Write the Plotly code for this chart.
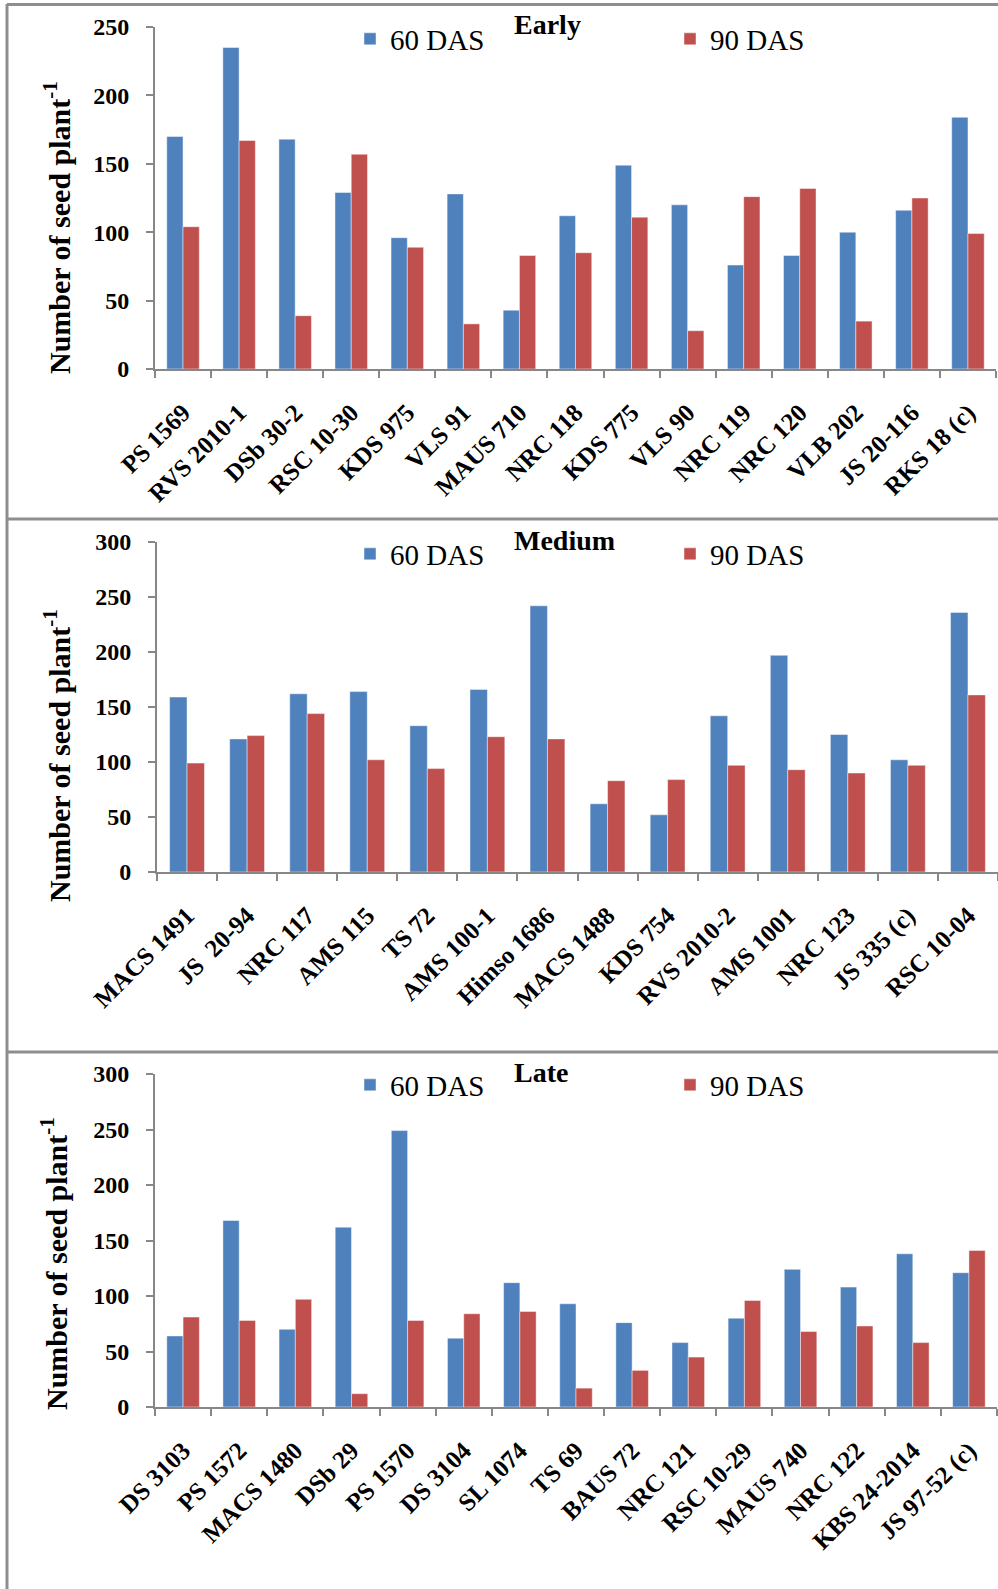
import plotly.graph_objects as go

# ---- data -------------------------------------------------------------
early_genotypes = ["PS 1569", "RVS 2010-1", "DSb 30-2", "RSC 10-30", "KDS 975", "VLS 91",
                   "MAUS 710", "NRC 118", "KDS 775", "VLS 90", "NRC 119", "NRC 120",
                   "VLB 202", "JS 20-116", "RKS 18 (c)"]
early_60 = [170, 235, 168, 129, 96, 128, 43, 112, 149, 120, 76, 83, 100, 116, 184]
early_90 = [104, 167, 39, 157, 89, 33, 83, 85, 111, 28, 126, 132, 35, 125, 99]

medium_genotypes = ["MACS 1491", "JS  20-94", "NRC 117", "AMS 115", "TS 72", "AMS 100-1",
                    "Himso 1686", "MACS 1488", "KDS 754", "RVS 2010-2", "AMS 1001",
                    "NRC 123", "JS 335 (c)", "RSC 10-04"]
medium_60 = [159, 121, 162, 164, 133, 166, 242, 62, 52, 142, 197, 125, 102, 236]
medium_90 = [99, 124, 144, 102, 94, 123, 121, 83, 84, 97, 93, 90, 97, 161]

late_genotypes = ["DS 3103", "PS 1572", "MACS 1480", "DSb 29", "PS 1570", "DS 3104",
                  "SL 1074", "TS 69", "BAUS 72", "NRC 121", "RSC 10-29", "MAUS 740",
                  "NRC 122", "KBS 24-2014", "JS 97-52 (c)"]
late_60 = [64, 168, 70, 162, 249, 62, 112, 93, 76, 58, 80, 124, 108, 138, 121]
late_90 = [81, 78, 97, 12, 78, 84, 86, 17, 33, 45, 96, 68, 73, 58, 141]

series_names = ["60 DAS", "90 DAS"]
panel_titles = ["Early", "Medium", "Late"]
y_title = "Number of seed plant<sup>-1</sup>"

# ---- page geometry ----------------------------------------------------
W, H = 998, 1589
BLUE, RED = "#4F81BD", "#C0504D"
AXIS_GREY = "#878787"
FRAME_GREY = "#8E8E8E"
FONT = "Liberation Serif"


def fx(px):
    return px / W


def fy(py):
    return 1 - py / H


def serif(text):
    # force the serif face on legend entries
    return f"<span style=\"font-family:'Liberation Serif',serif\">{text}</span>"


panels = [
    dict(cats=early_genotypes, a=early_60, b=early_90, ymax=250,
         xdom=(155, 996), ydom=(369, 27), legy=39, title_y=25, ytitle_y=228, ytitle_x=57),
    dict(cats=medium_genotypes, a=medium_60, b=medium_90, ymax=300,
         xdom=(157, 998), ydom=(872, 542), legy=554, title_y=540, ytitle_y=756, ytitle_x=57),
    dict(cats=late_genotypes, a=late_60, b=late_90, ymax=300,
         xdom=(155, 997), ydom=(1407, 1074), legy=1085, title_y=1072, ytitle_y=1264, ytitle_x=54),
]

fig = go.Figure()
layout = dict(
    width=W, height=H,
    margin=dict(l=0, r=0, t=0, b=0, autoexpand=False),
    paper_bgcolor="white", plot_bgcolor="white",
    barmode="group", bargap=0.42, bargroupgap=0,
    font=dict(family=FONT, color="black"),
    shapes=[], annotations=[],
)

for i, p in enumerate(panels, start=1):
    sfx = "" if i == 1 else str(i)
    legend_key = "legend" if i == 1 else f"legend{i}"
    for name, vals, col in ((series_names[0], p["a"], BLUE), (series_names[1], p["b"], RED)):
        fig.add_trace(go.Bar(
            x=p["cats"], y=vals, name=serif(name),
            marker=dict(color=col, line=dict(color="rgba(255,255,255,0.45)", width=1)),
            xaxis=f"x{sfx}", yaxis=f"y{sfx}",
            legend=legend_key, showlegend=True,
        ))

    layout[f"xaxis{sfx}"] = dict(
        domain=[fx(p["xdom"][0]), fx(p["xdom"][1])], anchor=f"y{sfx}",
        type="category", showline=True, linecolor=AXIS_GREY, linewidth=2,
        ticks="outside", ticklen=7, tickwidth=2, tickcolor=AXIS_GREY,
        tickson="boundaries", tickangle=-45, showgrid=False,
        tickfont=dict(family=FONT, size=25, weight="bold", color="black"),
        ticklabelstandoff=17, fixedrange=True, automargin=False,
    )
    layout[f"yaxis{sfx}"] = dict(
        domain=[fy(p["ydom"][0]), fy(p["ydom"][1])], anchor=f"x{sfx}",
        range=[0, p["ymax"]], dtick=50, showline=True, linecolor=AXIS_GREY, linewidth=2,
        ticks="outside", ticklen=7, tickwidth=2, tickcolor=AXIS_GREY,
        showgrid=False, zeroline=False,
        tickfont=dict(family=FONT, size=24, weight="bold", color="black"),
        ticklabelstandoff=12, fixedrange=True, automargin=False,
    )
    layout[legend_key] = dict(
        orientation="h", x=fx(350), y=fy(p["legy"]), xanchor="left", yanchor="middle",
        entrywidth=275, entrywidthmode="pixels",
        font=dict(family=FONT, size=29, color="black"),
        bgcolor="rgba(0,0,0,0)", borderwidth=0, traceorder="normal",
    )
    layout["annotations"].append(dict(
        text=f"<b>{panel_titles[i - 1]}</b>", xref="paper", yref="paper",
        x=fx(512), y=fy(p["title_y"]), xanchor="left", yanchor="middle",
        showarrow=False, font=dict(family=FONT, size=28, color="black"),
    ))
    layout["annotations"].append(dict(
        text=f"<b>{y_title}</b>", xref="paper", yref="paper",
        x=fx(p["ytitle_x"]), y=fy(p["ytitle_y"]), xanchor="center", yanchor="middle",
        textangle=-90, showarrow=False, font=dict(family=FONT, size=30, color="black"),
    ))

# panel frames
frame = dict(type="line", xref="paper", yref="paper", line=dict(color=FRAME_GREY, width=3))
layout["shapes"].append(dict(frame, x0=fx(7), x1=fx(7), y0=fy(4), y1=0))
for yy in (4.5, 519, 1052):
    layout["shapes"].append(dict(frame, x0=fx(7), x1=1, y0=fy(yy), y1=fy(yy)))

fig.update_layout(**layout)
fig.write_html("out.html")
